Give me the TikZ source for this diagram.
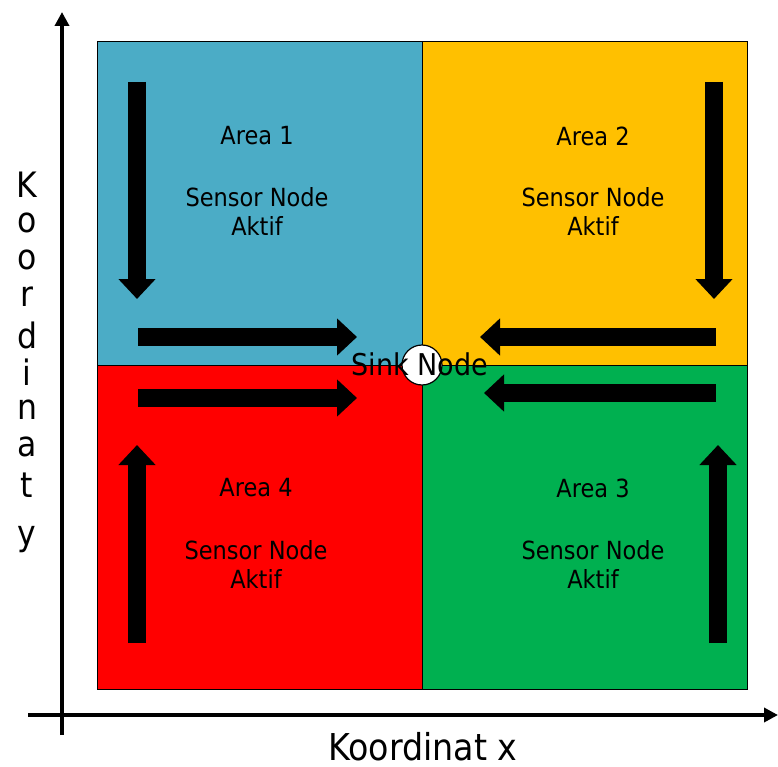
\documentclass[tikz,border=0pt]{standalone}
\usepackage{fontspec}
\setmainfont{DejaVu Sans Condensed}
\usetikzlibrary{positioning,arrows.meta}

\definecolor{areablue}{RGB}{75,172,198}
\definecolor{areaorange}{RGB}{255,192,0}
\definecolor{areared}{RGB}{255,0,0}
\definecolor{areagreen}{RGB}{0,176,80}

\begin{document}
\begin{tikzpicture}[x=1pt,y=-1pt]
        \tikzstyle{area}=[draw, line width=1.2pt, minimum width=325pt, minimum height=324pt, inner sep=0pt, anchor=north west]
        \tikzstyle{lbl}=[font=\fontsize{25}{29}\selectfont, align=center, inner sep=0pt]
        \tikzstyle{flow}=[line width=18pt, -{Triangle[width=36pt,length=20pt]}]
        \tikzstyle{axis}=[line width=4pt, -{Triangle[width=14pt,length=14pt]}]

        \useasboundingbox (0,0) rectangle (778,767);

        % areas
        \node[area, fill=areablue]   (a1) at (97,41)   {};
        \node[area, fill=areaorange] (a2) at (422,41)  {};
        \node[area, fill=areagreen]  (a3) at (422,365) {};
        \node[area, fill=areared]    (a4) at (97,365)  {};

        % labels
        \node[lbl] (t1) at (257,136) {Area 1};
        \node[lbl] (t2) at (593,136) {Area 2};
        \node[lbl] (t3) at (593,488) {Area 3};
        \node[lbl] (t4) at (256,488) {Area 4};
        \node[lbl] (s1) at (257,212) {Sensor Node\\Aktif};
        \node[lbl] (s2) at (593,212) {Sensor Node\\Aktif};
        \node[lbl] (s3) at (593,564) {Sensor Node\\Aktif};
        \node[lbl] (s4) at (256,564) {Sensor Node\\Aktif};

        % flow arrows
        \coordinate (v1a) at (137,82);  \coordinate (v1b) at (137,299);
        \coordinate (v2a) at (714,82);  \coordinate (v2b) at (714,299);
        \coordinate (v3a) at (718,643); \coordinate (v3b) at (718,445);
        \coordinate (v4a) at (137,643); \coordinate (v4b) at (137,445);
        \coordinate (h1a) at (138,337); \coordinate (h1b) at (357,337);
        \coordinate (h2a) at (716,337); \coordinate (h2b) at (480,337);
        \coordinate (h3a) at (716,393); \coordinate (h3b) at (484,393);
        \coordinate (h4a) at (138,398); \coordinate (h4b) at (357,398);
        \foreach \s/\e in {v1a/v1b, v2a/v2b, v3a/v3b, v4a/v4b, h1a/h1b, h2a/h2b, h3a/h3b, h4a/h4b}
            \draw[flow] (\s) -- (\e);

        % sink
        \node[circle, draw, line width=1.2pt, fill=white, minimum size=40pt, inner sep=0pt] (sink) at (422,365) {};
        \node[lbl, font=\fontsize{30}{34}\selectfont] (sinklbl) at (420,364) {Sink Node};

        % axes
        \coordinate (yb) at (62,735); \coordinate (yt) at (62,12);
        \coordinate (xl) at (28,715); \coordinate (xr) at (778,715);
        \draw[axis] (yb) -- (yt);
        \draw[axis] (xl) -- (xr);
        \node[font=\fontsize{37}{44}\selectfont, anchor=base, inner sep=0pt] (xlbl) at (423,760) {Koordinat x};
        \foreach \ch/\yy in {K/185, o/223, o/260, r/297, d/335, i/372, n/410, a/447, t/485, y/540}
            \node[font=\fontsize{35}{40}\selectfont] at (27,\yy) {\ch};
    \end{tikzpicture}
\end{document}
